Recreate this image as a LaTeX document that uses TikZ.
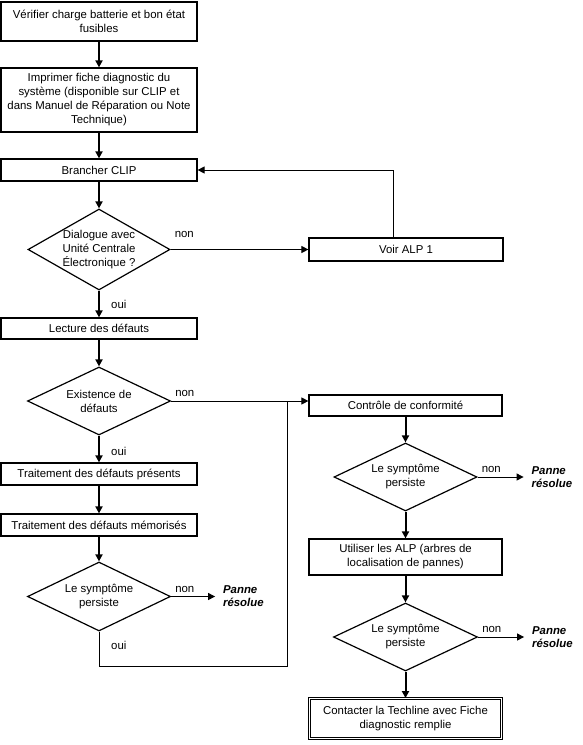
\documentclass[tikz,border=0pt]{standalone}
\usepackage{fontspec}
\setmainfont{Liberation Sans}
\usetikzlibrary{arrows.meta,calc,positioning,shapes.geometric}

\begin{document}
\begin{tikzpicture}[x=1pt,y=-1pt,>={Triangle[length=7pt,width=7pt]},
  font=\fontsize{11.4}{14}\selectfont,
  lbox/.style={draw,line width=1.2pt,minimum width=196pt,minimum height=#1,inner sep=0pt,align=center},
  lbox/.default=22pt,
  rbox/.style={lbox=#1,minimum width=193pt},
  rbox/.default=22pt,
  dec/.style 2 args={diamond,draw,line width=1.2pt,minimum width=#1,minimum height=#2,inner sep=0pt},
  dtxt/.style={align=center,inner sep=0pt},
  lab/.style={inner sep=0pt},
  res/.style={inner sep=0pt,outer xsep=8pt,align=left,font=\fontsize{11.4}{13}\selectfont\bfseries\itshape},
  va/.style={line width=2pt,->},
  hl/.style={line width=1pt}]
  \useasboundingbox (0,0) rectangle (582,745);
  % left column
  \node[lbox=39pt] (B1) at (99,21.5) {Vérifier charge batterie et bon état\\fusibles};
  \node[lbox=64pt] (B2) at (99,100) {Imprimer fiche diagnostic du\\système (disponible sur CLIP et\\dans Manuel de Réparation ou Note\\Technique)};
  \node[lbox] (B3) at (99,170) {Brancher CLIP};
  \node[dec={142pt}{81pt},label={[dtxt]center:{Dialogue avec\\Unité Centrale\\Électronique ?}}] (D1) at (99,249.5) {};
  \node[lbox=21pt] (B5) at (99,328.5) {Lecture des défauts};
  \node[dec={143pt}{68pt},label={[dtxt]center:{Existence de\\défauts}}] (D2) at (99,401) {};
  \node[lbox] (B7) at (99,474) {Traitement des défauts présents};
  \node[lbox] (B8) at (99,525) {Traitement des défauts mémorisés};
  \node[dec={143pt}{69pt},label={[dtxt]center:{Le symptôme\\persiste}}] (D3) at (99,596.5) {};
  % right column
  \node[rbox=23pt,minimum width=194pt] (B4) at (406,249.5) {Voir ALP 1};
  \node[rbox=21pt] (B6) at (405.5,405.5) {Contrôle de conformité};
  \node[dec={143pt}{68pt},label={[dtxt]center:{Le symptôme\\persiste}}] (D4) at (405.5,477) {};
  \node[rbox=36pt] (B9) at (405.5,557) {Utiliser les ALP (arbres de\\localisation de pannes)};
  \node[dec={144pt}{68pt},label={[dtxt]center:{Le symptôme\\persiste}}] (D5) at (405.5,637) {};
  \node[draw,double,double distance=1.5pt,line width=0.9pt,minimum width=192pt,minimum height=40pt,align=center,inner sep=0pt] (B10) at (405.5,718.5) {Contacter la Techline avec Fiche\\diagnostic remplie};
  \node[res,right=44pt of D3.east] (R1) {Panne\\résolue};
  \node[res,right=46pt of D4.east] (R2) {Panne\\résolue};
  \node[res,right=46pt of D5.east] (R3) {Panne\\résolue};
  % labels
  \node[lab,above right=12pt and 4pt of D1.east] (N1) {non};
  \node[lab,above right=4pt and 4pt of D2.east] (N2) {non};
  \node[lab,above right=4pt and 4pt of D3.east] (N3) {non};
  \node[lab,above right=4pt and 4pt of D4.east] (N4) {non};
  \node[lab,above right=4pt and 4pt of D5.east] (N5) {non};
  \node[lab,below right=9pt and 12pt of D1.south] (O1) {oui};
  \node[lab,below right=11pt and 12pt of D2.south] (O2) {oui};
  \node[lab,below right=9pt and 12pt of D3.south] (O3) {oui};
  % connectors
  \draw[va] (B1) -- (B2);
  \draw[va] (B2) -- (B3);
  \draw[va] (B3) -- (D1);
  \draw[va] (D1) -- (B5);
  \draw[va] (B5) -- (D2);
  \draw[va] (D2) -- (B7);
  \draw[va] (B7) -- (B8);
  \draw[va] (B8) -- (D3);
  \draw[va] (B6) -- (D4);
  \draw[va] (D4) -- (B9);
  \draw[va] (B9) -- (D5);
  \draw[va] (D5) -- (B10);
  \draw[hl,->] (D1.east) -- (B4.west);
  \draw[hl,->] ([xshift=-13pt]B4.north) |- (B3.east);
  \draw[hl,->] (D2.east) -- (D2.east -| B6.west);
  \draw[hl,->] (D3.east) -- (R1.west);
  \draw[hl,->] (D4.east) -- (R2.west);
  \draw[hl,->] (D5.east) -- (R3.west);
  \coordinate (J1) at (287,666);
  \draw[hl] (D3.south) |- (J1) -- (J1 |- D2.east);
\end{tikzpicture}
\end{document}
